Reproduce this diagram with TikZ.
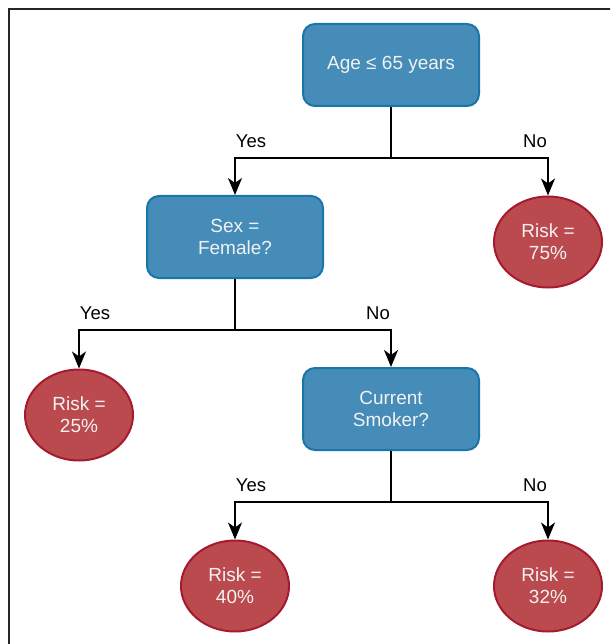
\documentclass[tikz,border=0pt]{standalone}
\usepackage{fontspec}
\setmainfont{Liberation Sans}
\usetikzlibrary{shapes.geometric,arrows.meta}
\definecolor{boxfill}{HTML}{458CB8}
\definecolor{boxline}{HTML}{1A76A8}
\definecolor{ellfill}{HTML}{BB4A4F}
\definecolor{ellline}{HTML}{A61A30}
\definecolor{txt}{HTML}{F2F2F2}
\tikzset{
  qbox/.style={rectangle, rounded corners=12pt, draw=boxline, fill=boxfill, line width=2pt,
    minimum width=176pt, minimum height=82pt, align=center, text=txt,
    font=\fontsize{19}{22}\selectfont, inner sep=0pt},
  leaf/.style={ellipse, draw=ellline, fill=ellfill, line width=2pt,
    minimum width=108pt, minimum height=91pt, align=center, text=txt,
    font=\fontsize{19}{22}\selectfont, inner sep=0pt},
  conn/.style={line width=2pt, black},
  arr/.style={conn, -{Stealth[length=17pt,width=14pt,inset=5pt]}},
  lbl/.style={font=\fontsize{18.5}{20}\selectfont, text=black, inner sep=0pt}
}
\begin{document}
\begin{tikzpicture}[x=1pt,y=-1pt]
\useasboundingbox (0,0) rectangle (610,644);
\clip (0,0) rectangle (610,644);
\draw[line width=1.5pt, black!85] (9,9) rectangle (660,700);

\node[qbox] (age) at (391,65) {Age ≤ 65 years};
\node[qbox] (sex) at (235,237) {Sex =\\Female?};
\node[qbox] (smk) at (391,409) {Current\\Smoker?};
\node[leaf] (r75) at (548,242) {Risk =\\75\%};
\node[leaf] (r25) at (79,415) {Risk =\\25\%};
\node[leaf] (r40) at (235,586) {Risk =\\40\%};
\node[leaf] (r32) at (548,586) {Risk =\\32\%};

\coordinate (j1) at (391,158);
\coordinate (j2) at (235,330);
\coordinate (j3) at (391,502);

\draw[conn] (age.south) -- (j1);
\draw[arr] (j1) -| (sex.north);
\draw[arr] (j1) -| (r75.north);
\draw[conn] (sex.south) -- (j2);
\draw[arr] (j2) -| (r25.north);
\draw[arr] (j2) -| (smk.north);
\draw[conn] (smk.south) -- (j3);
\draw[arr] (j3) -| (r40.north);
\draw[arr] (j3) -| (r32.north);

\node[lbl] (y1) at (251,141) {Yes};
\node[lbl] (n1) at (535,141) {No};
\node[lbl] (y2) at (95,313) {Yes};
\node[lbl] (n2) at (378,313) {No};
\node[lbl] (y3) at (251,485) {Yes};
\node[lbl] (n3) at (535,485) {No};
\end{tikzpicture}
\end{document}
